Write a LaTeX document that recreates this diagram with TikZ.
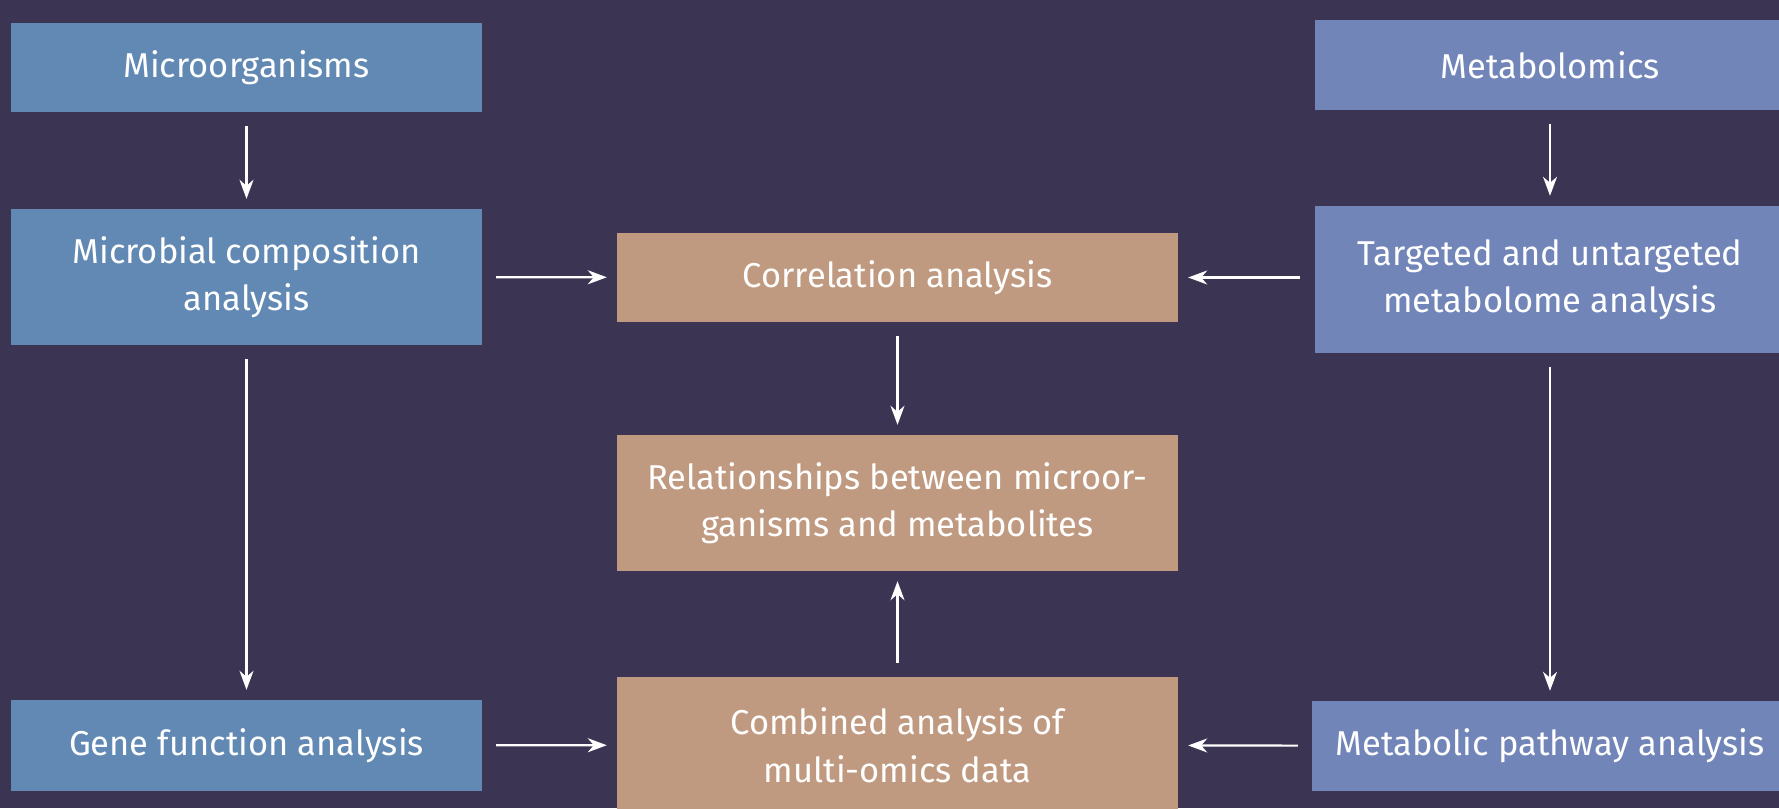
\documentclass[tikz,border=0pt]{standalone}
\usepackage{fontspec}
\setmainfont{Fira Sans}
\usetikzlibrary{arrows.meta}
\definecolor{bgdark}{HTML}{3B3452}
\definecolor{microblue}{HTML}{6189B4}
\definecolor{metaboblue}{HTML}{7185B9}
\definecolor{jointan}{HTML}{C09A80}
\tikzset{
    box/.style={rectangle, inner sep=0pt, text=white, align=center,
        font=\fontsize{34.5}{47.5}\selectfont},
    mbox/.style={box, fill=microblue, minimum width=471pt},
    tbox/.style={box, fill=metaboblue, minimum width=471pt},
    cbox/.style={box, fill=jointan, minimum width=561pt},
    arr/.style={-{Stealth[length=19pt,width=14pt,inset=6pt]}, draw=white,
        line width=2.2pt, shorten <=14pt, shorten >=10pt},
}

\begin{document}
\begin{tikzpicture}[x=1pt, y=-1pt]
    \fill[bgdark] (0,0) rectangle (1779,808);
    \useasboundingbox (0,0) rectangle (1779,808);
    % microorganism side
    \node[mbox, minimum height=89pt] (micro) at (246.5, 67.5) {Microorganisms};
    \node[mbox, minimum height=136pt] (comp) at (246.5, 277) {Microbial composition\\analysis};
    \node[mbox, minimum height=91pt] (gene) at (246.5, 745.5) {Gene function analysis};
    % combined analysis
    \node[cbox, minimum height=89pt] (corr) at (897.5, 277.5) {Correlation analysis};
    \node[cbox, minimum height=136pt] (rel) at (897.5, 503) {Relationships between microor-\\ganisms and metabolites};
    \node[cbox, minimum height=136pt] (comb) at (897.5, 745) {Combined analysis of\\multi-omics data};
    % metabolome side
    \node[tbox, minimum height=90pt] (metab) at (1550, 65) {Metabolomics};
    \node[tbox, minimum height=147pt] (targ) at (1550, 279.5) {Targeted and untargeted\\metabolome analysis};
    \node[tbox, minimum width=476pt, minimum height=90pt] (path) at (1550, 746) {Metabolic pathway analysis};
    % arrows
    \draw[arr] (micro) -- (comp);
    \draw[arr] (comp) -- (gene);
    \draw[arr] (metab) -- (targ);
    \draw[arr] (targ) -- (path);
    \draw[arr] (comp) -- (corr);
    \draw[arr] (targ.west |- corr.east) -- (corr.east);
    \draw[arr] (corr) -- (rel);
    \draw[arr] (comb) -- (rel);
    \draw[arr] (gene) -- (comb);
    \draw[arr] (path) -- (comb);
\end{tikzpicture}
\end{document}
